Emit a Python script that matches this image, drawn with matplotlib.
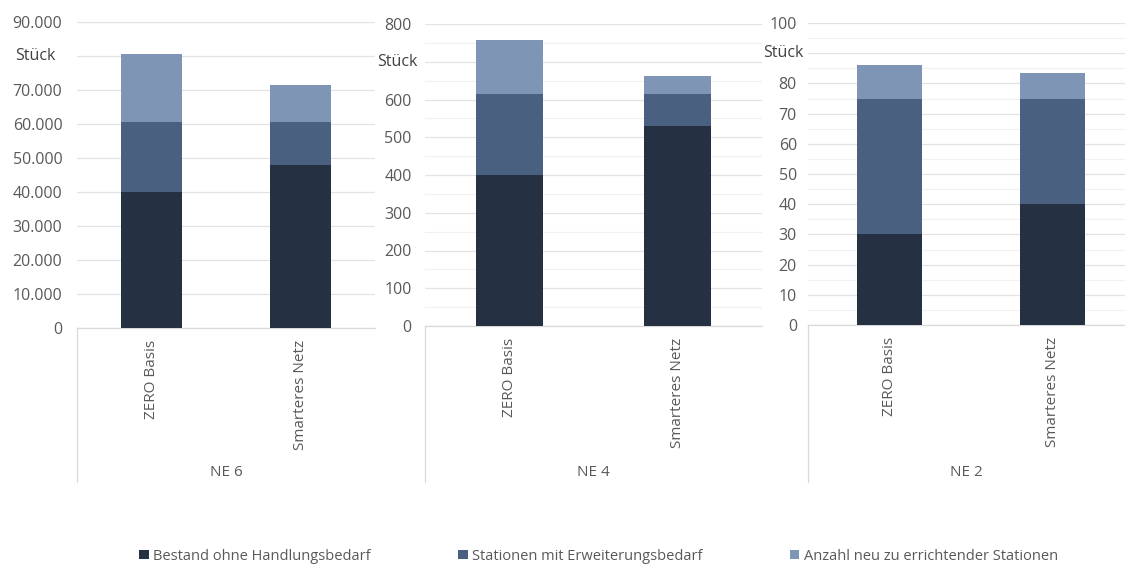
import matplotlib
matplotlib.use("Agg")
import matplotlib.pyplot as plt
from matplotlib.lines import Line2D
from matplotlib.patches import Patch
import numpy as np

plt.rcParams['font.family'] = ['Open Sans', 'DejaVu Sans']

categories = ["ZERO Basis", "Smarteres Netz"]
groups = ["NE 6", "NE 4", "NE 2"]
series_names = ["Bestand ohne Handlungsbedarf", "Stationen mit Erweiterungsbedarf",
                "Anzahl neu zu errichtender Stationen"]
colors = ["#253142", "#4a6080", "#7f95b6"]

ne6_bestand = [40000, 48000]
ne6_erweiterung = [20500, 12500]
ne6_neu = [20000, 11000]

ne4_bestand = [400, 530]
ne4_erweiterung = [215, 85]
ne4_neu = [143, 48]

ne2_bestand = [30, 40]
ne2_erweiterung = [45, 35]
ne2_neu = [11, 8.5]

ne6_ticks = [0, 10000, 20000, 30000, 40000, 50000, 60000, 70000, 80000, 90000]
ne6_ticklabels = ["0", "10.000", "20.000", "30.000", "40.000", "50.000", "60.000", "70.000", "", "90.000"]
ne4_ticks = [0, 100, 200, 300, 400, 500, 600, 700, 800]
ne4_ticklabels = ["0", "100", "200", "300", "400", "500", "600", "", "800"]
ne2_ticks = [0, 10, 20, 30, 40, 50, 60, 70, 80, 90, 100]
ne2_ticklabels = ["0", "10", "20", "30", "40", "50", "60", "70", "80", "", "100"]

W, H = 1125, 565
fig = plt.figure(figsize=(W / 100, H / 100), dpi=100)

def px_axes(x0, x1, ytop, ybot):
    return fig.add_axes([x0 / W, 1 - ybot / H, (x1 - x0) / W, (ybot - ytop) / H])

panels = [
    dict(rect=(77, 375, 22, 328), data=(ne6_bestand, ne6_erweiterung, ne6_neu),
         ticks=ne6_ticks, labels=ne6_ticklabels, stueck=80000, minor=None,
         xlim=(-0.5, 1.5), pad=10.5, stueck_off=-21, width=0.41),
    dict(rect=(425, 762, 24, 326), data=(ne4_bestand, ne4_erweiterung, ne4_neu),
         ticks=ne4_ticks, labels=ne4_ticklabels, stueck=700, minor=50,
         xlim=(-0.5, 1.5), pad=9.5, stueck_off=-7, width=0.40),
    dict(rect=(808, 1125, 23, 325), data=(ne2_bestand, ne2_erweiterung, ne2_neu),
         ticks=ne2_ticks, labels=ne2_ticklabels, stueck=90, minor=5,
         xlim=(-0.5, 1.445), pad=8, stueck_off=-4, width=0.40),
]

tick_color = "#595959"
grid_color = "#e3e3e3"
minor_color = "#f1f1f1"
fs = 11.5

for p, grp in zip(panels, groups):
    x0, x1, yt, yb = p['rect']
    ax = px_axes(x0, x1, yt, yb)
    x = np.arange(len(categories))
    bottom = np.zeros(len(categories))
    for vals, c in zip(p['data'], colors):
        ax.bar(x, vals, width=p['width'], bottom=bottom, color=c, zorder=3)
        bottom += np.array(vals, dtype=float)
    ax.set_xlim(*p['xlim'])
    ax.set_ylim(p['ticks'][0], p['ticks'][-1])
    ax.set_yticks(p['ticks'])
    ax.set_yticklabels(p['labels'], fontsize=fs, color=tick_color)
    if p['minor']:
        ax.set_yticks(np.arange(0, p['ticks'][-1], p['minor']), minor=True)
        ax.yaxis.grid(True, which='minor', color=minor_color, linewidth=0.9, zorder=0)
    ax.yaxis.grid(True, which='major', color=grid_color, linewidth=0.9, zorder=1)
    ax.tick_params(axis='y', which='both', length=0, pad=p['pad'])
    ax.set_xticks([])
    for s in ['top', 'right', 'left']:
        ax.spines[s].set_visible(False)
    ax.spines['bottom'].set_color("#d9d9d9")
    ax.spines['bottom'].set_linewidth(0.9)
    ax.annotate("Stück", xy=(0, p['stueck']), xycoords=('axes fraction', 'data'),
                xytext=(p['stueck_off'] * 0.72, 0), textcoords='offset points',
                ha='right', va='center', fontsize=fs, color="#404040")
    hpx = yb - yt
    for xi, cat in zip(x, categories):
        ax.text(xi, -12 / hpx, cat, transform=ax.get_xaxis_transform(),
                rotation=90, ha='center', va='top', fontsize=11, color=tick_color)
    ax.text(0.5, -(472 - yb) / hpx, grp, transform=ax.transAxes,
            ha='center', va='center', fontsize=11, color=tick_color)
    ax.add_line(Line2D([0, 0], [0, -(482 - yb) / hpx], transform=ax.transAxes,
                       color="#d9d9d9", linewidth=0.9, clip_on=False))

handles = [Patch(facecolor=c, edgecolor='none') for c in colors]
leg = fig.legend(handles, series_names, loc='center', bbox_to_anchor=(0.532, 1 - 556 / H),
                 ncol=3, frameon=False, handlelength=0.65, handleheight=0.65,
                 handletextpad=0.3, columnspacing=6.0,
                 prop={'family': ['Open Sans', 'DejaVu Sans'], 'size': 10.5})
for t in leg.get_texts():
    t.set_color(tick_color)

fig.savefig("out.png", dpi=100, facecolor='white')
